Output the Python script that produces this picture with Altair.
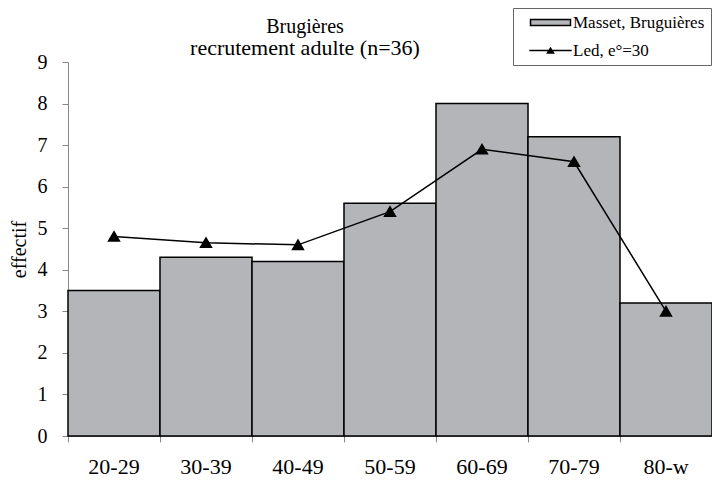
import altair as alt
import pandas as pd

categories = ["20-29", "30-39", "40-49", "50-59", "60-69", "70-79", "80-w"]
bar_values = [3.5, 4.3, 4.2, 5.6, 8.0, 7.2, 3.2]
line_values = [4.8, 4.65, 4.6, 5.4, 6.9, 6.6, 3.0]
series_bar = "Masset, Bruguières"
series_line = "Led, e°=30"
title_text = "Brugières"
subtitle_text = "recrutement adulte (n=36)"
y_title = "effectif"

FONT = "Liberation Serif"
GRAY = "#b4b5b9"

df_bar = pd.DataFrame({"cat": categories, "val": bar_values, "series": series_bar})
df_line = pd.DataFrame({"cat": categories, "val": line_values, "series": series_line})

bar_path = "M-5,-0.75H5V0.75H-5Z"
line_path = "M-5.3,0H5.3M-0.75,0.6L0,-0.6L0.75,0.6Z"
is_line = "indexof(datum.value, 'Led') === 0"

legend = alt.Legend(
    title=None,
    orient="none",
    legendX=445,
    legendY=-54,
    strokeColor="#666666",
    padding=6,
    symbolSize=64,
    symbolOffset=23,
    labelOffset=14,
    rowPadding=10,
    labelFont=FONT,
    labelFontSize=17,
    labelColor="black",
    symbolType=alt.ExprRef(f"{is_line} ? '{line_path}' : '{bar_path}'"),
    symbolStrokeWidth=1.5,
    symbolOpacity=1,
)

domain = [series_bar, series_line]
fill = alt.Fill(
    "series:N",
    scale=alt.Scale(domain=domain, range=[GRAY, "black"]),
    legend=legend,
)
stroke = alt.Stroke(
    "series:N",
    scale=alt.Scale(domain=domain, range=["black", "black"]),
    legend=legend,
)

x = alt.X(
    "cat:N",
    sort=categories,
    scale=alt.Scale(paddingInner=0, paddingOuter=0),
    axis=alt.Axis(
        title=None,
        labelAngle=0,
        labelFont=FONT,
        labelFontSize=22,
        labelColor="black",
        labelPadding=14,
        domainColor="#888888",
        tickColor="#888888",
        tickSize=6,
        bandPosition=0,
    ),
)
y = alt.Y(
    "val:Q",
    scale=alt.Scale(domain=[0, 9]),
    axis=alt.Axis(
        title=y_title,
        values=list(range(10)),
        grid=False,
        labelFont=FONT,
        labelFontSize=20,
        labelColor="black",
        labelPadding=15,
        domainColor="#888888",
        tickColor="#888888",
        tickSize=6,
        titleFont=FONT,
        titleFontSize=20,
        titleFontWeight="normal",
        titleColor="black",
        titlePadding=8,
    ),
)

bars = alt.Chart(df_bar).mark_bar(stroke="black", strokeWidth=1.5).encode(x=x, y=y, fill=fill)
line = alt.Chart(df_line).mark_line(
    strokeWidth=1.5,
    point=alt.OverlayMarkDef(shape="triangle-up", size=100, filled=True, fill="black", color="black"),
).encode(x=x, y=y, stroke=stroke)

chart = (
    alt.layer(bars, line)
    .properties(
        width=644,
        height=374,
        autosize=alt.AutoSizeParams(type="none"),
        padding={"left": 60, "top": 54, "right": 0, "bottom": 42},
        title=alt.TitleParams(
            text=title_text,
            subtitle=subtitle_text,
            font=FONT,
            fontSize=20,
            fontWeight="normal",
            color="black",
            subtitleFont=FONT,
            subtitleFontSize=22,
            subtitleColor="black",
            subtitlePadding=1,
            anchor="middle",
            dx=-85,
            offset=-51,
        ),
    )
    .configure_view(strokeWidth=0)
)

chart.save("out.html", embed_options={"renderer": "svg", "actions": False})
